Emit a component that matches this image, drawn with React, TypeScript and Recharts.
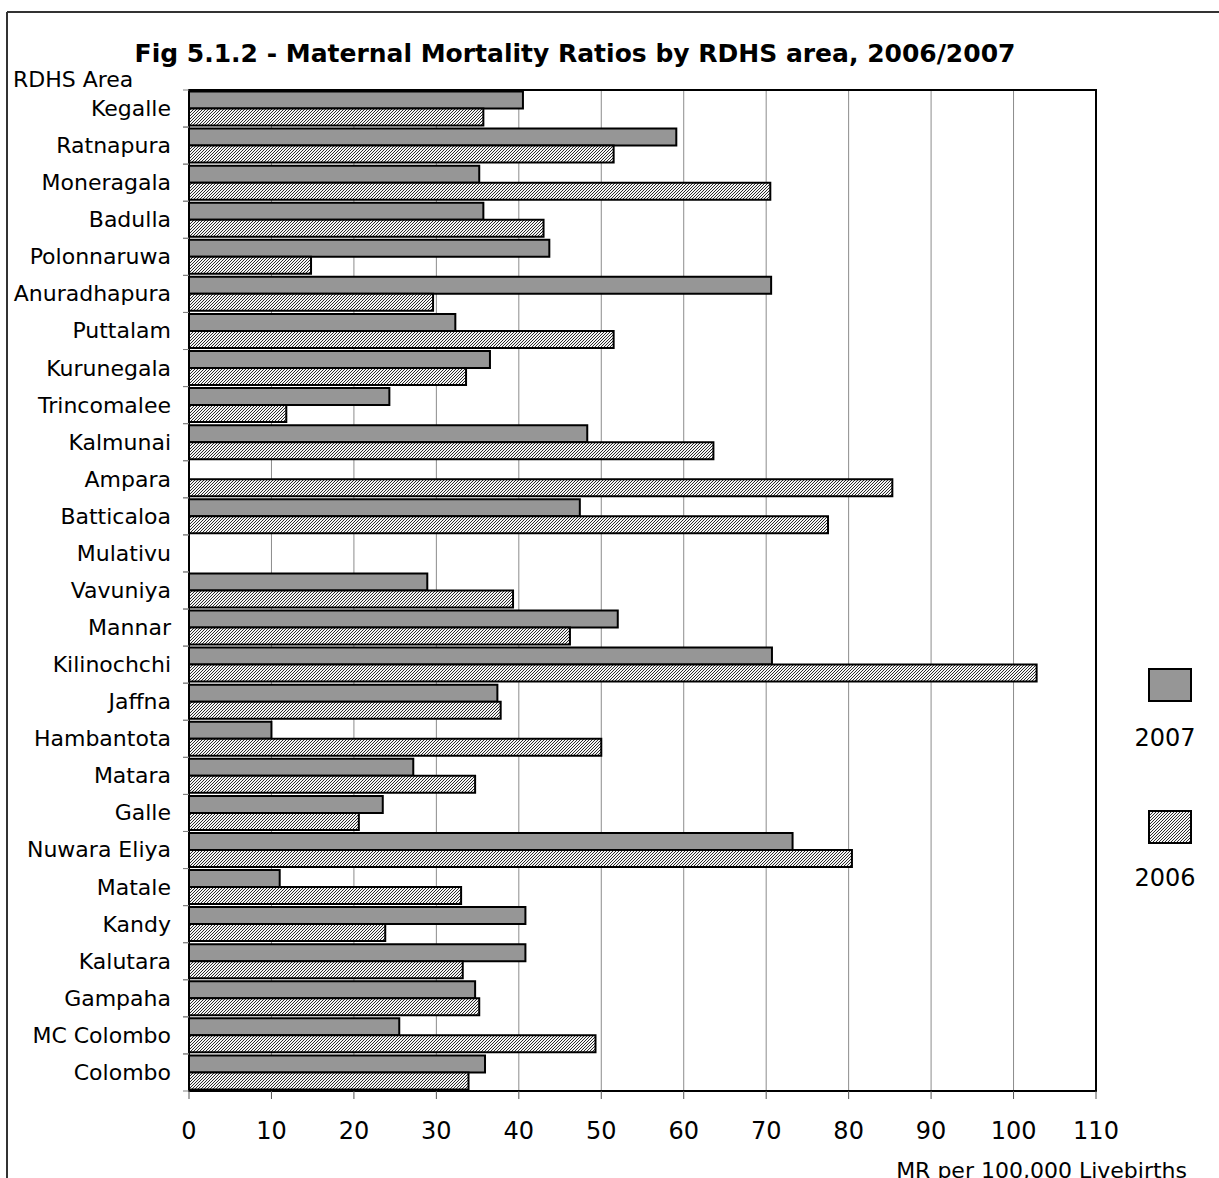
import React from "react";
import { BarChart, Bar, XAxis, YAxis, CartesianGrid, Legend, ReferenceArea } from "recharts";

// RDHS areas, listed top to bottom as they appear on the chart
const areas = [
  "Kegalle", "Ratnapura", "Moneragala", "Badulla", "Polonnaruwa", "Anuradhapura",
  "Puttalam", "Kurunegala", "Trincomalee", "Kalmunai", "Ampara", "Batticaloa",
  "Mulativu", "Vavuniya", "Mannar", "Kilinochchi", "Jaffna", "Hambantota",
  "Matara", "Galle", "Nuwara Eliya", "Matale", "Kandy", "Kalutara", "Gampaha",
  "MC Colombo", "Colombo",
];

// Maternal mortality ratio per 100,000 live births
const mr2007 = [
  40.5, 59.1, 35.2, 35.7, 43.7, 70.6, 32.3, 36.5, 24.3, 48.3, null, 47.4,
  null, 28.9, 52.0, 70.7, 37.4, 10.0, 27.2, 23.5, 73.2, 11.0, 40.8, 40.8,
  34.7, 25.5, 35.9,
];
const mr2006 = [
  35.7, 51.5, 70.5, 43.0, 14.8, 29.6, 51.5, 33.6, 11.8, 63.6, 85.3, 77.5,
  null, 39.3, 46.2, 102.8, 37.8, 50.0, 34.7, 20.6, 80.4, 33.0, 23.8, 33.2,
  35.2, 49.3, 33.9,
];

const xTicks = [0, 10, 20, 30, 40, 50, 60, 70, 80, 90, 100, 110];

const rows = areas.map((area, i) => ({
  area,
  y2007: mr2007[i],
  y2006: mr2006[i],
}));

const W = 1219;
const H = 1178;
const PLOT_LEFT = 189;
const PLOT_RIGHT = 1096;
const PLOT_TOP = 90;
const PLOT_BOTTOM = 1091;
const BAND = (PLOT_BOTTOM - PLOT_TOP) / areas.length;
const FONT = "'DejaVu Sans', Verdana, sans-serif";

const CategoryTick = (props: any) => {
  const { y, payload } = props;
  return (
    <g>
      <line x1={PLOT_LEFT - 6} x2={PLOT_LEFT} y1={y - BAND / 2} y2={y - BAND / 2} stroke="#808080" strokeWidth={1} />
      <line x1={PLOT_LEFT - 6} x2={PLOT_LEFT} y1={y + BAND / 2} y2={y + BAND / 2} stroke="#808080" strokeWidth={1} />
      <text
        x={PLOT_LEFT - 18}
        y={y}
        dy="0.34em"
        textAnchor="end"
        fontSize={22}
        fontFamily={FONT}
        fill="#000"
      >
        {payload.value}
      </text>
    </g>
  );
};

const LegendBox = () => (
  <svg width={90} height={240} style={{ display: "block" }}>
    <rect x={24} y={9} width={42} height={32} fill="#969696" stroke="#000" strokeWidth={2} />
    <text x={40} y={86} textAnchor="middle" fontSize={24} fontFamily={FONT} fill="#000">2007</text>
    <rect x={24} y={151} width={42} height={32} fill="url(#hatch2006)" stroke="#000" strokeWidth={2} />
    <text x={40} y={226} textAnchor="middle" fontSize={24} fontFamily={FONT} fill="#000">2006</text>
  </svg>
);

export default function App() {
  return (
    <div style={{ position: "absolute", left: 0, top: 0, width: W, height: H, background: "#fff", overflow: "hidden" }}>
      <svg width={0} height={0} style={{ position: "absolute" }}>
        <defs>
          <pattern id="hatch2006" patternUnits="userSpaceOnUse" width={3} height={3}>
            <rect width={3} height={3} fill="#f4f4f4" />
            <rect x={0} y={2} width={1} height={1} fill="#2a2a2a" shapeRendering="crispEdges" />
            <rect x={1} y={1} width={1} height={1} fill="#2a2a2a" shapeRendering="crispEdges" />
            <rect x={2} y={0} width={1} height={1} fill="#2a2a2a" shapeRendering="crispEdges" />
          </pattern>
        </defs>
      </svg>
      <BarChart
        width={W}
        height={H}
        data={rows}
        layout="vertical"
        margin={{ top: PLOT_TOP, right: W - PLOT_RIGHT, bottom: 27, left: 0 }}
        barCategoryGap="4%"
        barGap={0}
      >
        <CartesianGrid horizontal={false} vertical stroke="#8c8c8c" strokeWidth={1} />
        <XAxis
          type="number"
          domain={[0, 110]}
          ticks={xTicks}
          interval={0}
          height={60}
          axisLine={{ stroke: "#000", strokeWidth: 2 }}
          tickLine={{ stroke: "#555", strokeWidth: 1 }}
          tickSize={8}
          tickMargin={23}
          tick={{ fontSize: 24, fontFamily: FONT, fill: "#000" }}
        />
        <YAxis
          type="category"
          dataKey="area"
          width={PLOT_LEFT}
          interval={0}
          axisLine={{ stroke: "#000", strokeWidth: 2 }}
          tickLine={false}
          tick={<CategoryTick />}
        />
        {/* plot-area frame */}
        <ReferenceArea x1={0} x2={110} fill="none" stroke="#000" strokeWidth={2} ifOverflow="visible" />
        <Legend
          layout="vertical"
          align="center"
          verticalAlign="middle"
          wrapperStyle={{ left: 1125, top: 660, width: 90, height: 240 }}
          content={() => <LegendBox />}
        />
        <Bar dataKey="y2007" name="2007" fill="#969696" stroke="#000" strokeWidth={2} isAnimationActive={false} />
        <Bar dataKey="y2006" name="2006" fill="url(#hatch2006)" stroke="#000" strokeWidth={2} isAnimationActive={false} />
      </BarChart>
      <svg width={W} height={H} style={{ position: "absolute", left: 0, top: 0, pointerEvents: "none" }}>
        <line x1={7} y1={12} x2={W} y2={12} stroke="#333" strokeWidth={2} />
        <line x1={7} y1={12} x2={7} y2={H} stroke="#333" strokeWidth={2} />
        <text x={575} y={62} textAnchor="middle" fontSize={25} fontWeight="bold" fontFamily={FONT} fill="#000">
          Fig 5.1.2 - Maternal Mortality Ratios by RDHS area, 2006/2007
        </text>
        <text x={13} y={87} fontSize={22} fontFamily={FONT} fill="#000">RDHS Area</text>
        <text x={1187} y={1178} textAnchor="end" fontSize={22} fontFamily={FONT} fill="#000">
          MR per 100,000 Livebirths
        </text>
      </svg>
    </div>
  );
}
